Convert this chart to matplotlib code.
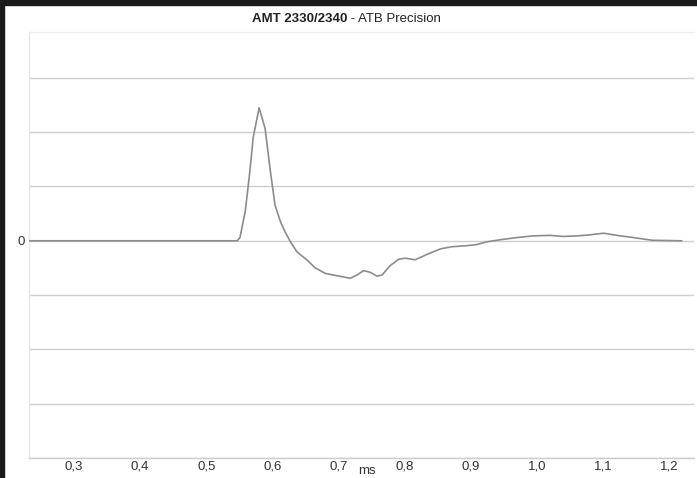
import matplotlib.pyplot as plt
from matplotlib.patches import Rectangle

plt.rcParams['font.family'] = ['Liberation Sans', 'DejaVu Sans']

# impulse response (time in ms, amplitude in grid steps)
time_ms = [0.233, 0.547, 0.551, 0.559, 0.566, 0.571, 0.580, 0.589, 0.597, 0.604,
           0.612, 0.619, 0.627, 0.637, 0.652, 0.665, 0.680, 0.692, 0.705, 0.718,
           0.728, 0.738, 0.748, 0.758, 0.766, 0.778, 0.791, 0.801, 0.816, 0.834,
           0.854, 0.871, 0.894, 0.909, 0.924, 0.945, 0.970, 0.994, 1.020, 1.040,
           1.061, 1.081, 1.101, 1.121, 1.146, 1.174, 1.219]
amplitude = [0.0, 0.0, 0.06, 0.54, 1.28, 1.90, 2.45, 2.07, 1.28, 0.66,
             0.36, 0.17, -0.01, -0.20, -0.35, -0.50, -0.60, -0.63, -0.66, -0.69,
             -0.63, -0.55, -0.58, -0.65, -0.63, -0.46, -0.34, -0.32, -0.35, -0.25,
             -0.15, -0.11, -0.09, -0.07, -0.02, 0.02, 0.06, 0.09, 0.10, 0.08,
             0.09, 0.11, 0.14, 0.10, 0.06, 0.01, 0.0]

xticks = [0.3, 0.4, 0.5, 0.6, 0.7, 0.8, 0.9, 1.0, 1.1, 1.2]
xtick_labels = ['0,3', '0,4', '0,5', '0,6', '0,7', '0,8', '0,9', '1,0', '1,1', '1,2']
grid_levels = [-4, -3, -2, -1, 0, 1, 2, 3]

fig = plt.figure(figsize=(6.97, 4.78), dpi=100)
ax = fig.add_axes([29 / 697, 20 / 478, 665 / 697, 426 / 478])

for g in grid_levels:
    ax.axhline(g, color='#cfcfcf', lw=1.0, zorder=1)

ax.plot(time_ms, amplitude, color='#8c8c8c', lw=1.2, zorder=3)

ax.set_xlim(0.2319, 1.2378)
ax.set_ylim(-4, 3.845)
ax.set_xticks(xticks)
ax.set_xticklabels(xtick_labels)
ax.set_yticks([0])
ax.set_yticklabels(['0'])
ax.tick_params(length=0, labelsize=9.5, colors='#333333')
ax.tick_params(axis='x', pad=2)
ax.tick_params(axis='y', pad=3)

ax.spines['right'].set_visible(False)
ax.spines['left'].set_color('#e6e6e6')
ax.spines['top'].set_color('#eeeeee')
ax.spines['bottom'].set_color('#cccccc')
for side in ['left', 'top', 'bottom']:
    ax.spines[side].set_linewidth(1.0)

ax.text(0.508, -0.016, 'ms', transform=ax.transAxes, ha='center', va='top',
        fontsize=9.5, color='#333333')

# title: bold model name followed by regular text
fig.text(0.498, 1 - 19 / 478, 'AMT 2330/2340', ha='right', va='center',
         fontsize=9.5, fontweight='bold', color='#222222')
fig.text(0.498, 1 - 19 / 478, ' - ATB Precision', ha='left', va='center',
         fontsize=9.5, color='#222222')

# thick dark frame at top and left edge
fig.patches.append(Rectangle((0, 1 - 5 / 478), 1, 5 / 478, transform=fig.transFigure,
                             color='#1a1a1a', zorder=10))
fig.patches.append(Rectangle((0, 0), 4 / 697, 1, transform=fig.transFigure,
                             color='#1a1a1a', zorder=10))

fig.savefig('out.png', dpi=100)
